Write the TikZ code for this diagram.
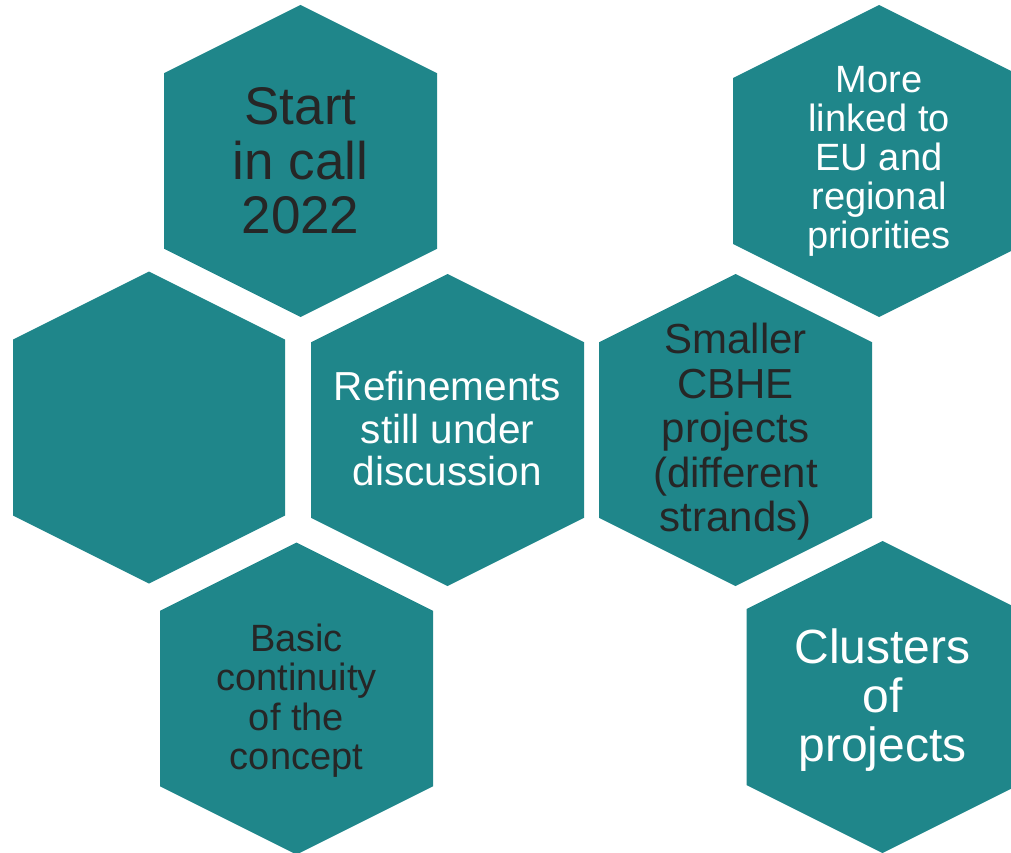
\documentclass[tikz,border=0pt]{standalone}
\usepackage{fontspec}
\setmainfont{Liberation Sans}
\usetikzlibrary{calc}

\definecolor{hexteal}{HTML}{1F868A}
\definecolor{darktext}{HTML}{262626}

% hexagon with pointy top: centre x, centre y, half width
\newcommand{\hexcell}[3]{%
  \fill[hex] (#1,#2-156) -- (#1+#3,#2-156+#3/2) -- (#1+#3,#2+156-#3/2)
    -- (#1,#2+156) -- (#1-#3,#2+156-#3/2) -- (#1-#3,#2-156+#3/2) -- cycle;}

\begin{document}
\begin{tikzpicture}[
      x=1pt, y=-1pt,
      hex/.style={fill=hexteal},
      every node/.style={align=center, inner sep=0pt},
      dark/.style={text=darktext},
      light/.style={text=white}
    ]
    \useasboundingbox (0,0) rectangle (1011,853);
    \clip (0,0) rectangle (1011,853);

    % top row
    \hexcell{300.5}{161}{136.5}
    \hexcell{879}{161}{146}
    % middle row
    \hexcell{149}{427.5}{136}
    \hexcell{447.5}{430}{136.5}
    \hexcell{735.5}{430}{136.5}
    % bottom row
    \hexcell{296.5}{698.5}{136.5}
    \hexcell{882.5}{697}{136}

    \node[dark, font=\fontsize{53}{54.5}\selectfont] (start) at (300.5,161) {Start\\in call\\2022};
    \node[light, font=\fontsize{38}{39}\selectfont] (linked) at (879,161.5) {More\\linked to\\EU and\\regional\\priorities};
    \coordinate (blank) at (149,427.5);
    \node[light, font=\fontsize{40.5}{42.5}\selectfont] (refine) at (447.5,429) {Refinements\\still under\\discussion};
    \node[dark, font=\fontsize{42}{44.5}\selectfont] (smaller) at (735.5,432) {Smaller\\CBHE\\projects\\(different\\strands)};
    \node[dark, font=\fontsize{38}{39.5}\selectfont] (basic) at (296.5,700.5) {Basic\\continuity\\of the\\concept};
    \node[light, font=\fontsize{48}{49}\selectfont] (clusters) at (882.5,700) {Clusters\\of\\projects};
  \end{tikzpicture}
\end{document}
